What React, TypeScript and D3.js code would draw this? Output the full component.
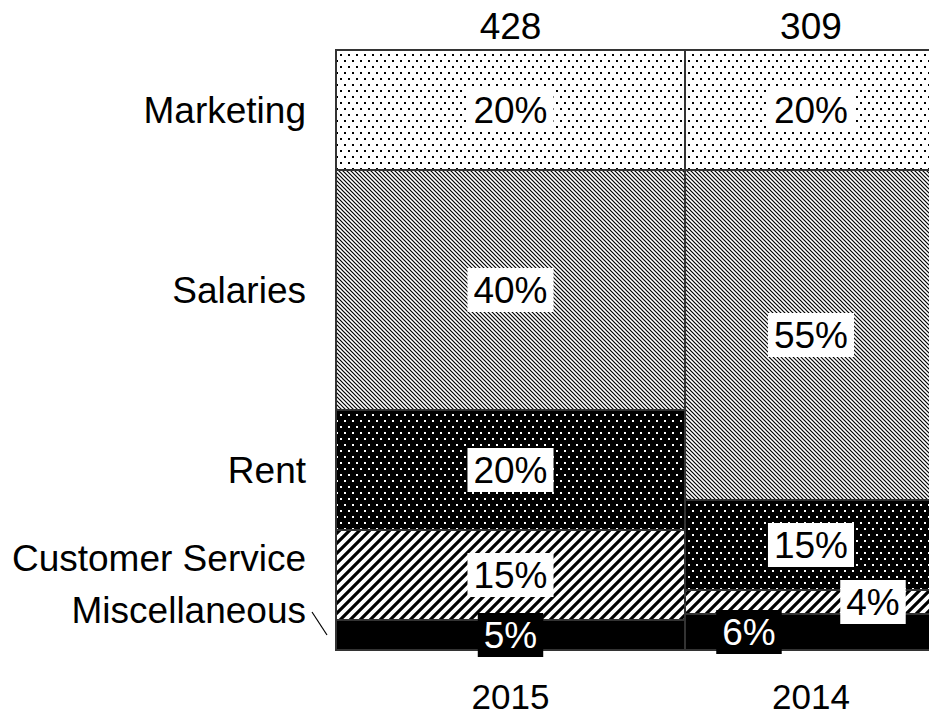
import React from 'react';
import * as d3 from 'd3';

const years = ['2015', '2014'];
const totals = [428, 309];
const categories = ['Marketing', 'Salaries', 'Rent', 'Customer Service', 'Miscellaneous'];
const share2015 = [20, 40, 20, 15, 5];
const share2014 = [20, 55, 15, 4, 6];
const shares = [share2015, share2014];

const W = 929;
const H = 718;
const FONT = 'Liberation Sans, Arial, sans-serif';
const FS = 37;

const patternIds = ['pMarketing', 'pSalaries', 'pRent', 'pCS', 'solid'];
const darkLabel = [false, false, false, false, true];

export default function App() {
  const left = 336;
  const top = 50;
  const bottom = 650;
  const unit = 349 / 428;
  const grand = d3.sum(totals);
  const x = d3.scaleLinear().domain([0, grand]).range([left, left + grand * unit]);
  const y = d3.scaleLinear().domain([0, 100]).range([top, bottom]);

  const starts = d3.cumsum([0, ...totals]);
  const cols = years.map((yr, i) => {
    const x0 = x(starts[i]);
    const x1 = x(starts[i] + totals[i]);
    const cum = d3.cumsum([0, ...shares[i]]);
    const segs = categories.map((c, j) => ({
      cat: c,
      j,
      v: shares[i][j],
      y0: y(cum[j]),
      y1: y(cum[j + 1]),
    }));
    return { yr, total: totals[i], x0, x1, cx: (x0 + x1) / 2, segs };
  });

  // label nudges to avoid overlap (x offsets for tiny 2014 segments)
  const pctDx: Record<string, number> = { '1-3': 62, '1-4': -62 };
  const leftDy = [0, 0, 0, -17, -25];

  const boxH = 44;
  const padX = 6;
  const charW = (s: string) => {
    let w = 0;
    for (const ch of s) w += ch === '%' ? 0.889 : 0.556;
    return w * FS;
  };

  return (
    <svg width={W} height={H} style={{ position: 'absolute', left: 0, top: 0, background: '#fff' }}>
      <defs>
        <pattern id="pMarketing" width={8} height={12} patternUnits="userSpaceOnUse">
          <rect width={8} height={12} fill="#fff" />
          <rect x={0} y={0} width={2} height={2} fill="#000" />
          <rect x={4} y={6} width={2} height={2} fill="#000" />
        </pattern>
        <pattern id="pSalaries" width={4} height={4} patternUnits="userSpaceOnUse">
          <rect width={4} height={4} fill="#fff" />
          <path d="M-1,-1 L5,5 M-1,3 L1,5 M3,-1 L5,1" stroke="#000" strokeWidth={1.2} />
        </pattern>
        <pattern id="pRent" width={8} height={12} patternUnits="userSpaceOnUse">
          <rect width={8} height={12} fill="#000" />
          <rect x={0} y={0} width={2} height={2} fill="#fff" />
          <rect x={4} y={6} width={2} height={2} fill="#fff" />
        </pattern>
        <pattern id="pCS" width={10} height={10} patternUnits="userSpaceOnUse">
          <rect width={10} height={10} fill="#fff" />
          <path d="M-1,11 L11,-1 M-3,3 L3,-3 M7,13 L13,7" stroke="#000" strokeWidth={3.2} />
        </pattern>
      </defs>

      {cols.map((col, i) =>
        col.segs.map((s) => (
          <rect
            key={`r${i}-${s.j}`}
            x={col.x0}
            y={s.y0}
            width={col.x1 - col.x0}
            height={s.y1 - s.y0}
            fill={patternIds[s.j] === 'solid' ? '#000' : `url(#${patternIds[s.j]})`}
            stroke="#333"
            strokeWidth={2}
          />
        ))
      )}

      {cols.map((col, i) =>
        col.segs.map((s) => {
          const t = `${s.v}%`;
          const cx = col.cx + (pctDx[`${i}-${s.j}`] || 0);
          const cy = (s.y0 + s.y1) / 2;
          const bw = charW(t) + padX * 2;
          const dark = darkLabel[s.j];
          return (
            <g key={`l${i}-${s.j}`}>
              <rect x={cx - bw / 2} y={cy - boxH / 2} width={bw} height={boxH} fill={dark ? '#000' : '#fff'} />
              <text
                x={cx}
                y={cy}
                textAnchor="middle"
                dominantBaseline="central"
                fontFamily={FONT}
                fontSize={FS}
                fill={dark ? '#fff' : '#000'}
              >
                {t}
              </text>
            </g>
          );
        })
      )}

      {cols.map((col, i) => (
        <g key={`t${i}`}>
          <text x={col.cx} y={26} textAnchor="middle" dominantBaseline="central" fontFamily={FONT} fontSize={FS}>
            {col.total}
          </text>
          <text x={col.cx} y={709} textAnchor="middle" fontFamily={FONT} fontSize={35}>
            {col.yr}
          </text>
        </g>
      ))}

      {cols[0].segs.map((s) => {
        const cy = (s.y0 + s.y1) / 2;
        const ly = cy + leftDy[s.j];
        return (
          <g key={`c${s.j}`}>
            <text x={306} y={ly} textAnchor="end" dominantBaseline="central" fontFamily={FONT} fontSize={FS}>
              {s.cat}
            </text>
            {leftDy[s.j] < -20 && (
              <line x1={312} y1={ly + 2} x2={327} y2={cy} stroke="#000" strokeWidth={1.2} />
            )}
          </g>
        );
      })}
    </svg>
  );
}
